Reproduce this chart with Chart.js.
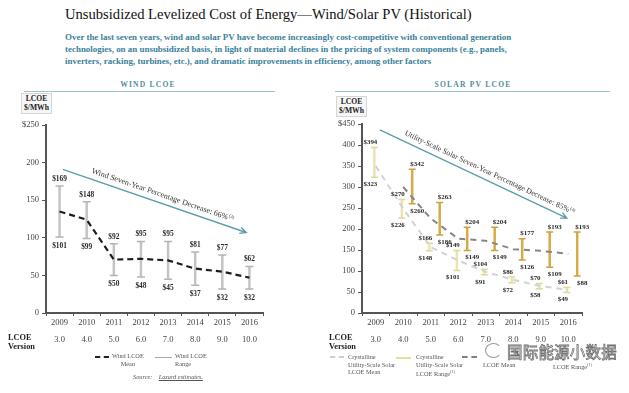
<!DOCTYPE html>
<html>
<head>
<meta charset="utf-8">
<script src="https://cdn.jsdelivr.net/npm/chart.js@4.4.0/dist/chart.umd.min.js"></script>
<style>
body { margin: 0; width: 629px; height: 393px; background: #fff; position: relative; overflow: hidden; font-family: "Liberation Serif", serif; color: #222; }
.abs { position: absolute; white-space: nowrap; }
.title { left: 65px; top: 6px; font-size: 14.6px; color: #111; }
.sub { left: 65px; top: 31px; font-size: 8.95px; line-height: 12px; color: #3b7f9b; font-weight: bold; }
.head { font-size: 7.6px; font-weight: bold; letter-spacing: 1.2px; color: #4f8ea0; top: 80px; transform: translateX(-50%); }
.rule { height: 1px; background: #9fc3cc; top: 91px; }
.box { border: 1px solid #d6d6d6; background: #f6f6f6; font-size: 7.6px; font-weight: bold; text-align: center; line-height: 8.5px; padding: 1px 2px; }
.ver { font-size: 8.3px; font-weight: bold; line-height: 9px; }
.leg { font-size: 6.3px; line-height: 7.6px; color: #555; }
.dash { border-top: 2px dashed #222; height: 0; }
canvas { position: absolute; }
.wm { left: 507px; top: 340px; font-family: "Noto Sans CJK SC", sans-serif; font-size: 15.5px; color: #fff; -webkit-text-stroke: 0.8px #707070; letter-spacing: 0.2px; }
.wmicon { left: 485px; top: 343px; width: 15px; height: 13px; border: 1px solid #999; border-radius: 50%; border-right-color: transparent; }
</style>
</head>
<body>
<div class="abs title">Unsubsidized Levelized Cost of Energy—Wind/Solar PV (Historical)</div>
<div class="abs sub">Over the last seven years, wind and solar PV have become increasingly cost-competitive with conventional generation<br>technologies, on an unsubsidized basis, in light of material declines in the pricing of system components (e.g., panels,<br>inverters, racking, turbines, etc.), and dramatic improvements in efficiency, among other factors</div>

<div class="abs head" style="left:148px">WIND LCOE</div>
<div class="abs rule" style="left:24px;width:251px"></div>
<div class="abs head" style="left:473px">SOLAR PV LCOE</div>
<div class="abs rule" style="left:335px;width:275px"></div>

<div class="abs box" style="left:21px;top:93px">LCOE<br>$/MWh</div>
<div class="abs box" style="left:336px;top:96px">LCOE<br>$/MWh</div>

<canvas id="windChart" width="266" height="234" style="left:0;top:115px"></canvas>
<canvas id="solarChart" width="290" height="234" style="left:316px;top:115px"></canvas>

<div class="abs ver" style="left:8px;top:333px">LCOE<br>Version</div>
<div class="abs ver" style="left:329px;top:333px">LCOE<br>Version</div>

<div class="abs dash" style="left:95px;top:356px;width:14px"></div>
<div class="abs leg" style="left:112px;top:352px;text-align:center">Wind LCOE<br>Mean</div>
<div class="abs" style="left:155px;top:357px;width:17px;height:1px;background:#aaa"></div>
<div class="abs leg" style="left:175px;top:352px">Wind LCOE<br>Range</div>
<div class="abs leg" style="left:133px;top:373px;font-style:italic">Source:&nbsp;&nbsp;&nbsp;&nbsp;<u>Lazard estimates.</u></div>

<div class="abs dash" style="left:330px;top:356px;width:14px;border-top-color:#cfcfcf"></div>
<div class="abs leg" style="left:348px;top:353px">Crystalline<br>Utility-Scale Solar<br>LCOE Mean</div>
<div class="abs" style="left:396px;top:357px;width:15px;height:2px;background:#e4df9c"></div>
<div class="abs leg" style="left:416px;top:353px">Crystalline<br>Utility-Scale Solar<br>LCOE Range<sup style="font-size:4px">(1)</sup></div>
<div class="abs dash" style="left:462px;top:356px;width:15px;border-top-color:#808080"></div>
<div class="abs leg" style="left:483px;top:361px">LCOE Mean</div>
<div class="abs leg" style="left:553px;top:361px">LCOE Range<sup style="font-size:4px">(1)</sup></div>
<div class="abs wmicon"></div>
<div class="abs wm">国际能源小数据</div>

<script>
Chart.defaults.font.family = '"Liberation Serif", serif';
Chart.defaults.color = '#444';

const years = ['2009', '2010', '2011', '2012', '2013', '2014', '2015', '2016'];
const versions = ['3.0', '4.0', '5.0', '6.0', '7.0', '8.0', '9.0', '10.0'];

const windHigh = [169, 148, 92, 95, 95, 81, 77, 62];
const windLow = [101, 99, 50, 48, 45, 37, 32, 32];
const windMean = [135, 124, 71, 72, 70, 59, 55, 47];

const crystHigh = [394, 270, 166, 149, 104, 86, 70, 61];
const crystLow = [323, 226, 148, 101, 91, 72, 58, 49];
const crystMean = [350, 248, 157, 125, 98, 79, 64, 55];

const roofHigh = [null, 342, 263, 204, 204, 177, 193, 193];
const roofLow = [null, 260, 186, 149, 149, 126, 109, 88];
const roofMean = [null, 300, 225, 177, 172, 152, 148, 141];

const tickLabels = years.map((y, i) => [y, '', versions[i]]);

function toRange(low, high) {
    return high.map((h, i) => h == null ? null : [low[i], h]);
}

// caps on the range bars plus the $ labels above and below them
const rangeMarks = {
    id: 'rangeMarks',
    afterDatasetsDraw(chart) {
        const ctx = chart.ctx;
        chart.data.datasets.forEach((ds, di) => {
            if (ds.type !== 'bar') return;
            const meta = chart.getDatasetMeta(di);
            meta.data.forEach((el, i) => {
                const v = ds.data[i];
                if (v == null) return;
                const top = Math.min(el.y, el.base);
                const bot = Math.max(el.y, el.base);
                ctx.save();
                ctx.strokeStyle = ds.capColor;
                ctx.lineWidth = 1.5;
                ctx.beginPath();
                ctx.moveTo(el.x - ds.capWidth / 2, top);
                ctx.lineTo(el.x + ds.capWidth / 2, top);
                ctx.moveTo(el.x - ds.capWidth / 2, bot);
                ctx.lineTo(el.x + ds.capWidth / 2, bot);
                ctx.stroke();
                ctx.fillStyle = '#2a2a2a';
                ctx.font = 'bold ' + ds.labelSize + 'px "Liberation Serif", serif';
                ctx.textAlign = 'center';
                ctx.textBaseline = 'middle';
                ctx.fillText('$' + v[1], el.x + ds.labelDx, top - ds.labelGap);
                ctx.fillText('$' + v[0], el.x + ds.labelDx, bot + ds.labelGap + 2);
                ctx.restore();
            });
        });
    }
};

// teal trend arrow with its rotated caption
const trendArrow = {
    id: 'trendArrow',
    afterDraw(chart, args, opts) {
        if (!opts.text) return;
        const ctx = chart.ctx;
        const x = chart.scales.x, y = chart.scales.y;
        const x1 = x.getPixelForValue(opts.from[0]), y1 = y.getPixelForValue(opts.from[1]);
        const x2 = x.getPixelForValue(opts.to[0]), y2 = y.getPixelForValue(opts.to[1]);
        const ang = Math.atan2(y2 - y1, x2 - x1);
        ctx.save();
        ctx.strokeStyle = '#5c9eab';
        ctx.lineWidth = 1.4;
        ctx.beginPath();
        ctx.moveTo(x1, y1);
        ctx.lineTo(x2, y2);
        ctx.moveTo(x2 - 7 * Math.cos(ang - 0.45), y2 - 7 * Math.sin(ang - 0.45));
        ctx.lineTo(x2, y2);
        ctx.lineTo(x2 - 7 * Math.cos(ang + 0.45), y2 - 7 * Math.sin(ang + 0.45));
        ctx.stroke();
        ctx.translate(x1, y1);
        ctx.rotate(ang);
        ctx.fillStyle = '#333';
        ctx.font = opts.size + 'px "Liberation Serif", serif';
        ctx.textBaseline = 'alphabetic';
        ctx.fillText(opts.text, opts.startAt, -6);
        const w = ctx.measureText(opts.text).width;
        ctx.font = (opts.size * 0.6) + 'px "Liberation Serif", serif';
        ctx.fillText(opts.note, opts.startAt + w + 0.5, -9);
        ctx.restore();
    }
};

function axes(maxVal) {
    return {
        x: {
            offset: true,
            grid: { display: true, drawOnChartArea: false, tickLength: 3, color: '#555', offset: true },
            border: { color: '#555', width: 2 },
            ticks: { font: { size: 8.5, lineHeight: 1.0 }, color: '#444', padding: 3, maxRotation: 0, autoSkip: false },
            afterFit: s => { s.height = 36; }
        },
        y: {
            min: 0, max: maxVal,
            grid: { display: true, drawOnChartArea: false, tickLength: 4, color: '#555' },
            border: { color: '#555', width: 2 },
            ticks: {
                stepSize: 50, font: { size: 8.5 }, color: '#444', padding: 3,
                callback: v => v === maxVal ? '$' + v : v
            },
            afterFit: s => { s.width = 46; }
        }
    };
}

new Chart(document.getElementById('windChart'), {
    type: 'bar',
    data: {
        labels: tickLabels,
        datasets: [
            {
                type: 'line', data: windMean, borderColor: '#1e1e1e', borderWidth: 2.2,
                borderDash: [6, 4], pointRadius: 0, fill: false, tension: 0
            },
            {
                type: 'bar', data: toRange(windLow, windHigh), backgroundColor: '#c4c4c4',
                maxBarThickness: 2.5, barPercentage: 1, categoryPercentage: 0.5,
                capColor: '#b4b4b4', capWidth: 8, labelDx: 0, labelGap: 7, labelSize: 7.4
            }
        ]
    },
    options: {
        responsive: false, animation: false,
        layout: { padding: { top: 10, right: 3, left: 0, bottom: 0 } },
        scales: axes(250),
        plugins: {
            legend: { display: false }, tooltip: { enabled: false },
            trendArrow: { from: [0.12, 191], to: [6.88, 107], text: 'Wind Seven-Year Percentage Decrease: 66%', note: '(3)', size: 8, startAt: 28 }
        }
    },
    plugins: [rangeMarks, trendArrow]
});

new Chart(document.getElementById('solarChart'), {
    type: 'bar',
    data: {
        labels: tickLabels,
        datasets: [
            {
                type: 'line', data: roofMean, borderColor: '#858585', borderWidth: 2,
                borderDash: [6, 5], pointRadius: 0, fill: false, tension: 0
            },
            {
                type: 'line', data: crystMean, borderColor: '#d2d2d2', borderWidth: 2,
                borderDash: [6, 5], pointRadius: 0, fill: false, tension: 0
            },
            {
                type: 'bar', data: toRange(crystLow, crystHigh), backgroundColor: '#e9e5ad',
                maxBarThickness: 2.5, barPercentage: 1, categoryPercentage: 0.2,
                capColor: '#dfd995', capWidth: 7, labelDx: -4, labelGap: 5, labelSize: 6.9
            },
            {
                type: 'bar', data: toRange(roofLow, roofHigh), backgroundColor: '#d6ab45',
                maxBarThickness: 2.5, barPercentage: 1, categoryPercentage: 1.3,
                capColor: '#cca23c', capWidth: 7, labelDx: 5, labelGap: 5, labelSize: 6.9
            }
        ]
    },
    options: {
        responsive: false, animation: false,
        layout: { padding: { top: 9, right: 24, left: 0, bottom: 0 } },
        scales: axes(450),
        plugins: {
            legend: { display: false }, tooltip: { enabled: false },
            trendArrow: { from: [0.15, 436], to: [6.95, 226], text: 'Utility-Scale Solar Seven-Year Percentage Decrease: 85%', note: '(4)', size: 7.8, startAt: 24 }
        }
    },
    plugins: [rangeMarks, trendArrow]
});
</script>
</body>
</html>
